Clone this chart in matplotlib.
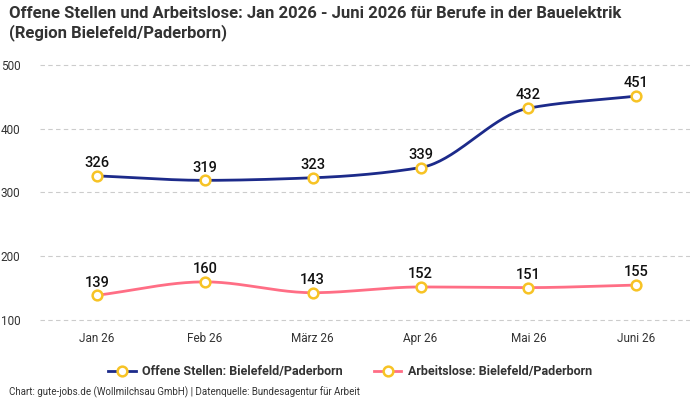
import numpy as np
import matplotlib
matplotlib.use('Agg')
import matplotlib.pyplot as plt
from matplotlib.lines import Line2D

months = ['Jan 26', 'Feb 26', 'März 26', 'Apr 26', 'Mai 26', 'Juni 26']
offene_stellen = [326, 319, 323, 339, 432, 451]
arbeitslose = [139, 160, 143, 152, 151, 155]

plt.rcParams['font.family'] = ['Roboto', 'DejaVu Sans']

def monotone(y, n=40):
    # Fritsch-Carlson monotone cubic, only for drawing the smooth line
    y = np.asarray(y, float)
    x = np.arange(len(y), dtype=float)
    d = np.diff(y)
    m = np.zeros_like(y)
    m[0], m[-1] = d[0], d[-1]
    for i in range(1, len(y) - 1):
        if d[i - 1] * d[i] <= 0:
            m[i] = 0
        else:
            m[i] = 2 / (1 / d[i - 1] + 1 / d[i])
    xs, ys = [], []
    for i in range(len(y) - 1):
        t = np.linspace(0, 1, n)
        h00 = 2*t**3 - 3*t**2 + 1
        h10 = t**3 - 2*t**2 + t
        h01 = -2*t**3 + 3*t**2
        h11 = t**3 - t**2
        xs.append(x[i] + t)
        ys.append(h00*y[i] + h10*m[i] + h01*y[i+1] + h11*m[i+1])
    return np.concatenate(xs), np.concatenate(ys)

fig = plt.figure(figsize=(7, 4), dpi=100)
ax = fig.add_axes([0.057, 0.19, 0.929, 0.672])

navy = '#1c2a8a'
pink = '#ff6e85'
gold = '#f7c325'

x = np.arange(len(months))
for vals, col in [(offene_stellen, navy), (arbeitslose, pink)]:
    sx, sy = monotone(vals)
    ax.plot(sx, sy, color=col, lw=2, zorder=3)
    ax.plot(x, vals, ls='none', marker='o', ms=7, mfc='white', mec=gold, mew=1.8, zorder=4)
    for xi, v in zip(x, vals):
        ax.text(xi, v + 9, str(v), ha='center', va='bottom', fontsize=10.5,
                fontweight='medium', color='#111111', zorder=5)

ax.set_xlim(-0.53, 5.5)
ax.set_ylim(94, 515)
ax.set_yticks([100, 200, 300, 400, 500])
ax.set_xticks(x)
ax.set_xticklabels(months)
ax.tick_params(axis='both', length=0, labelsize=8.5, colors='#333333')
ax.tick_params(axis='x', pad=6)
ax.tick_params(axis='y', pad=14)
ax.grid(axis='y', color='#cccccc', ls=(0, (4, 3)), lw=0.8)
for s in ax.spines.values():
    s.set_visible(False)

fig.text(0.013, 0.985, 'Offene Stellen und Arbeitslose: Jan 2026 - Juni 2026 für Berufe in der Bauelektrik\n(Region Bielefeld/Paderborn)',
         ha='left', va='top', fontsize=12, fontweight='bold', color='#333333',
         linespacing=1.2)

handles = [Line2D([], [], color=navy, lw=2, marker='o', ms=7, mfc='white', mec=gold, mew=1.8),
           Line2D([], [], color=pink, lw=2, marker='o', ms=7, mfc='white', mec=gold, mew=1.8)]
leg = fig.legend(handles, ['Offene Stellen: Bielefeld/Paderborn', 'Arbeitslose: Bielefeld/Paderborn'],
                 loc='center', bbox_to_anchor=(0.5, 0.07), ncol=2, frameon=False,
                 prop={'size': 9, 'weight': 'bold'}, handlelength=2.2, columnspacing=2.5,
                 handletextpad=0.5)
for t in leg.get_texts():
    t.set_color('#333333')

fig.text(0.013, 0.005, 'Chart: gute-jobs.de (Wollmilchsau GmbH) | Datenquelle: Bundesagentur für Arbeit',
         ha='left', va='bottom', fontsize=7, color='#333333')

fig.savefig('out.png', dpi=100)
